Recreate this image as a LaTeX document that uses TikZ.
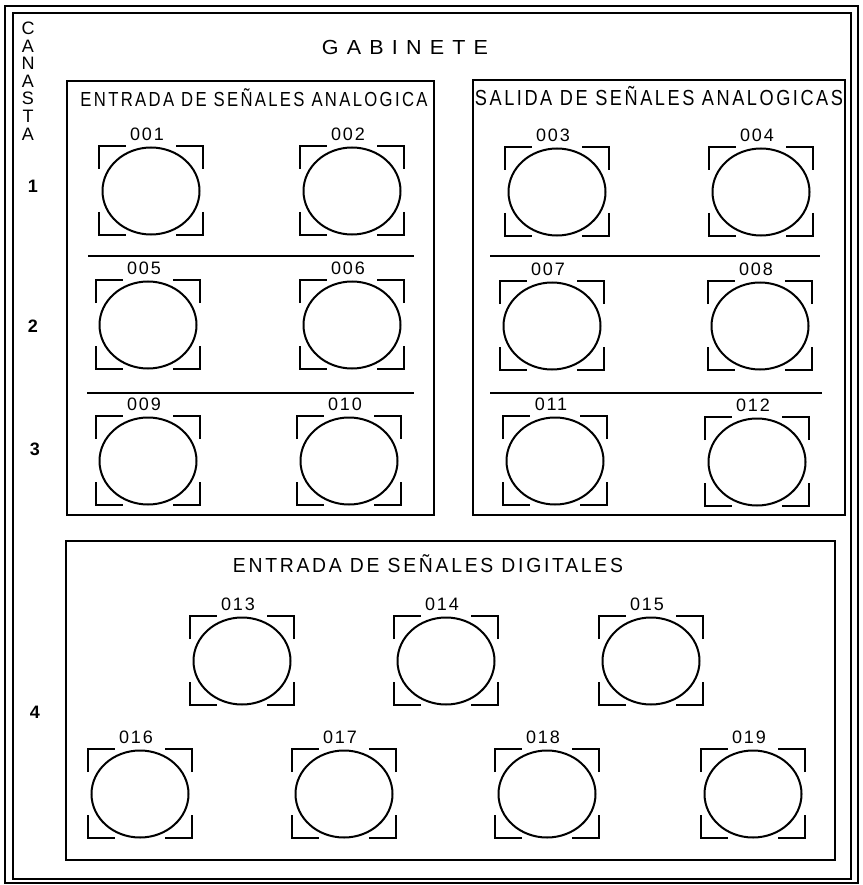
\documentclass[tikz,border=0pt]{standalone}
\usepackage{fontspec}
\setmainfont{Liberation Sans}
\newfontfamily\lett[LetterSpace=14]{Liberation Sans}
\newfontfamily\wide[LetterSpace=38]{Liberation Sans}
\newfontfamily\digs[LetterSpace=10]{Liberation Sans}
\usetikzlibrary{shapes.geometric}
\newcommand\fittext[3]{\resizebox{#1pt}{#2pt}{\lett\smash{#3}\vphantom{A}}}
\newcommand\fitwide[3]{\resizebox{#1pt}{#2pt}{\wide\smash{#3}\vphantom{A}}}
\tikzset{
  frame/.style={line width=1.8pt},
  hole/.style={draw, line width=2pt, ellipse, inner sep=0pt, minimum width=97pt, minimum height=87pt},
  brk/.style={line width=2pt},
  lbl/.style={font=\fontsize{18}{18}\digs, inner sep=0pt},
  rownum/.style={font=\fontsize{18}{18}\selectfont\bfseries, inner sep=0pt},
}
\newcommand\slot[4]{%
  \node[hole] (h#1) at (#2,#3) {};
  \draw[brk] ([shift={(-52,-22)}]h#1.center) -- ++(0,-23) -- ++(27,0);
  \draw[brk] ([shift={(52,-22)}]h#1.center) -- ++(0,-23) -- ++(-27,0);
  \draw[brk] ([shift={(-52,21)}]h#1.center) -- ++(0,23) -- ++(27,0);
  \draw[brk] ([shift={(52,21)}]h#1.center) -- ++(0,23) -- ++(-27,0);
  \node[lbl] (l#1) at ([shift={(-4,-57)}]h#1.center) {#4};
}
\begin{document}
\begin{tikzpicture}[x=1pt,y=-1pt]
\useasboundingbox (0,0) rectangle (862,885);
% outer double frame
\draw[frame] (5,6) rectangle (858,883);
\draw[frame] (13,13) rectangle (851,879);
% boxes
\draw[frame] (67,81) rectangle (434,515);
\draw[frame] (473,80) rectangle (845,515);
\draw[frame] (66,541) rectangle (835,860);
% separators
\draw[frame] (88,256) -- (414,256);
\draw[frame] (87,393) -- (414,393);
\draw[frame] (490,256) -- (820,256);
\draw[frame] (490,393) -- (822,393);
% titles
\node[inner sep=0pt] (tgab) at (405,48) {\fitwide{166}{14}{GABINETE}};
\node[inner sep=0pt] (tent) at (254,100) {\fittext{347}{14}{ENTRADA DE SEÑALES ANALOGICA}};
\node[inner sep=0pt] (tsal) at (659,98) {\fittext{368}{15}{SALIDA DE SEÑALES ANALOGICAS}};
\node[inner sep=0pt] (tdig) at (428,565) {\fittext{390}{14}{ENTRADA DE SEÑALES DIGITALES}};
% CANASTA
\node[align=center, inner sep=0pt, font=\fontsize{18}{17.6}\selectfont] (canasta) at (28,81) {C\\A\\N\\A\\S\\T\\A};
% row numbers
\node[rownum] (r1) at (33,186) {1};
\node[rownum] (r2) at (33,326) {2};
\node[rownum] (r3) at (35,449) {3};
\node[rownum] (r4) at (35,712) {4};
% slots
\slot{001}{151}{191}{001}
\slot{002}{352}{191}{002}
\slot{005}{148}{325}{005}
\slot{006}{352}{325}{006}
\slot{009}{148}{461}{009}
\slot{010}{349}{461}{010}
\slot{003}{557}{192}{003}
\slot{004}{761}{192}{004}
\slot{007}{552}{326}{007}
\slot{008}{760}{326}{008}
\slot{011}{555}{461}{011}
\slot{012}{757}{462}{012}
\slot{013}{242}{661}{013}
\slot{014}{446}{661}{014}
\slot{015}{651}{661}{015}
\slot{016}{140}{794}{016}
\slot{017}{344}{794}{017}
\slot{018}{547}{794}{018}
\slot{019}{753}{794}{019}
\end{tikzpicture}
\end{document}
